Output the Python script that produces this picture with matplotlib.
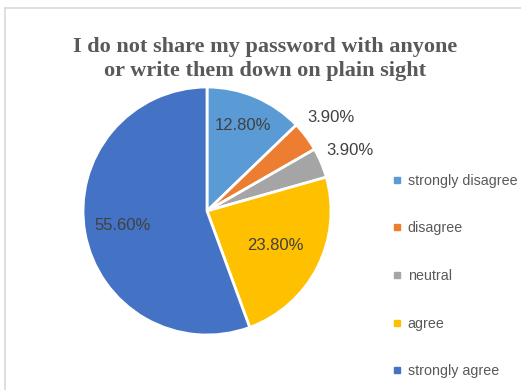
import numpy as np
import matplotlib.pyplot as plt
from matplotlib.lines import Line2D

# data
labels = ['strongly disagree', 'disagree', 'neutral', 'agree', 'strongly agree']
values = [12.8, 3.9, 3.9, 23.8, 55.6]
colors = ['#5B9BD5', '#ED7D31', '#A5A5A5', '#FFC000', '#4472C4']
title = 'I do not share my password with anyone\nor write them down on plain sight'

# how far from the centre each percentage label sits (fraction of radius)
label_r = [0.75, 1.25, 1.25, 0.62, 0.69]

fig = plt.figure(figsize=(5.21, 3.90), dpi=100)

# thin light-gray border at left and top, like the pasted Excel chart
fig.add_artist(Line2D([5 / 521, 5 / 521], [0, 1 - 8 / 390], transform=fig.transFigure,
                      color='#D9D9D9', lw=1.2))
fig.add_artist(Line2D([5 / 521, 1], [1 - 8 / 390, 1 - 8 / 390], transform=fig.transFigure,
                      color='#D9D9D9', lw=1.2))

fig.text(265 / 521, 1 - 59 / 390, title, ha='center', va='center',
         family='Liberation Serif', fontweight='bold', fontsize=16,
         color='#595959', linespacing=1.3)

ax = fig.add_axes([83 / 521, 55 / 390, 248 / 521, 248 / 390])
wedges, _ = ax.pie(values, colors=colors, startangle=90, counterclock=False,
                   radius=1, wedgeprops=dict(edgecolor='white', linewidth=2))
ax.set_xlim(-1, 1)
ax.set_ylim(-1, 1)

for w, v, r in zip(wedges, values, label_r):
    ang = np.deg2rad((w.theta1 + w.theta2) / 2)
    ax.text(r * np.cos(ang), r * np.sin(ang), f'{v:.2f}%', ha='center', va='center',
            family='Liberation Sans', fontsize=12, color='#404040')

handles = [Line2D([], [], marker='s', linestyle='', markersize=5,
                  markerfacecolor=c, markeredgecolor=c) for c in colors]
fig.legend(handles, labels, loc='center left', bbox_to_anchor=(387 / 521, 1 - 276 / 390),
           frameon=False, prop={'family': 'Liberation Sans', 'size': 10.3},
           labelcolor='#595959', labelspacing=2.35, handlelength=0.6,
           handletextpad=0.45, borderaxespad=0)

fig.savefig('out.png', dpi=100)
